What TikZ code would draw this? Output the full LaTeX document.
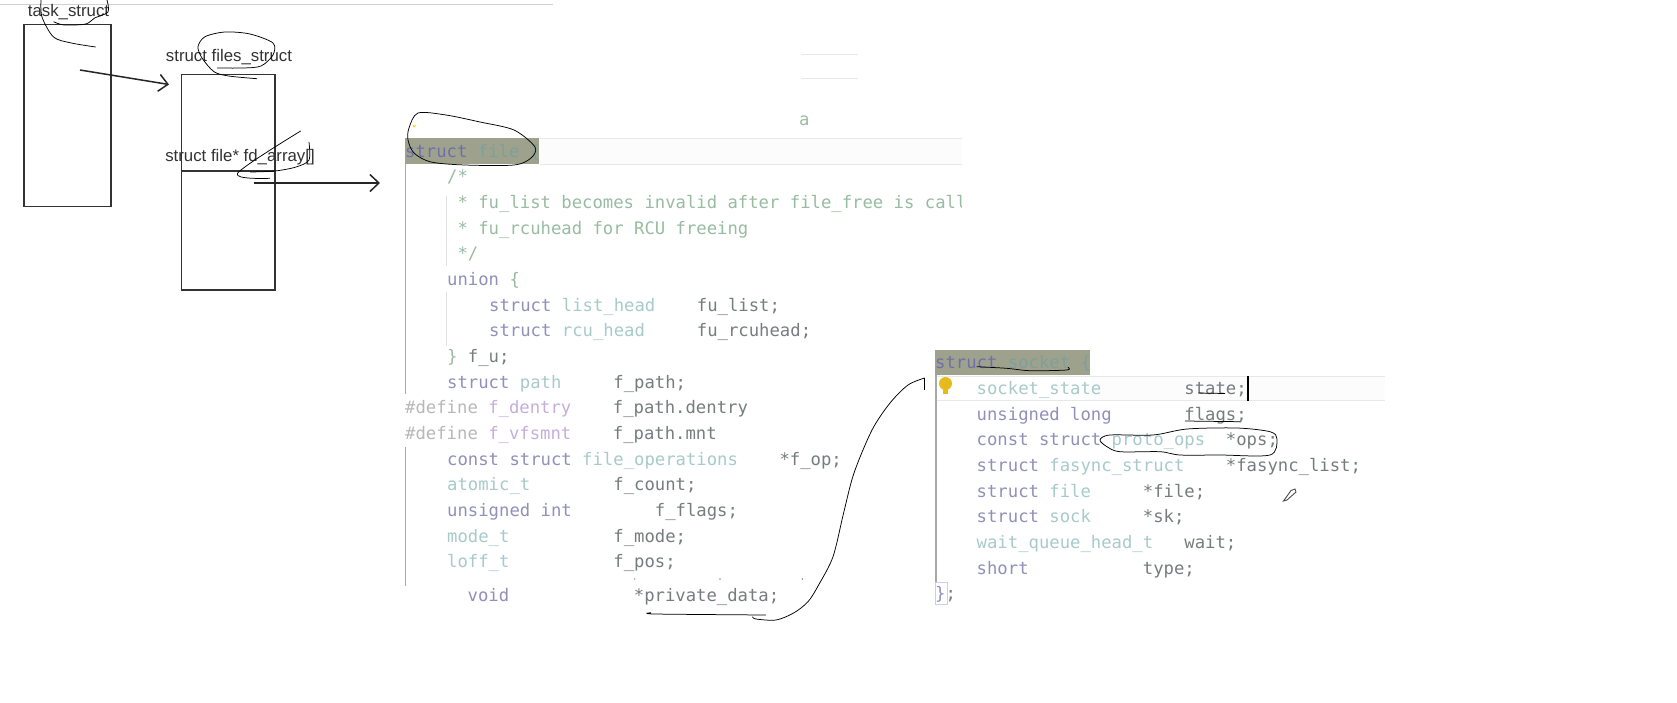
\documentclass[tikz,border=0pt]{standalone}
\usepackage{fontspec}
\usepackage{xcolor}
\usepackage{tikz}
\usetikzlibrary{arrows.meta,calc,positioning}
\setmainfont{Liberation Sans}
\newfontfamily\codefont{DejaVu Sans Mono}

\definecolor{kwcol}{HTML}{9090BA}
\definecolor{tycol}{HTML}{A8CACA}
\definecolor{cmcol}{HTML}{98BCA1}
\definecolor{idcol}{HTML}{777D7D}
\definecolor{ppcol}{HTML}{B8B8B8}
\definecolor{mccol}{HTML}{C6AEDC}
\definecolor{hlcol}{HTML}{9EA28C}
\definecolor{hlkwcol}{HTML}{6E6EAA}
\definecolor{hltycol}{HTML}{7DA09C}
\definecolor{bandcol}{HTML}{E8E8E8}
\definecolor{rulecol}{HTML}{A8A8A8}
\newcommand{\kw}[1]{\textcolor{kwcol}{#1}}
\newcommand{\ty}[1]{\textcolor{tycol}{#1}}
\newcommand{\cm}[1]{\textcolor{cmcol}{#1}}
\newcommand{\idn}[1]{\textcolor{idcol}{#1}}
\newcommand{\pp}[1]{\textcolor{ppcol}{#1}}
\newcommand{\mc}[1]{\textcolor{mccol}{#1}}
\newcommand{\hlkw}[1]{\textcolor{hlkwcol}{#1}}
\newcommand{\hlty}[1]{\textcolor{hltycol}{#1}}

\tikzset{
  structbox/.style={draw=black!80, line width=1.9pt, inner sep=0pt, anchor=north west},
  structlabel/.style={font=\fontsize{16.8}{19}\selectfont, text=black!80, inner sep=0pt},
  codeline/.style={font=\codefont\fontsize{17.25}{20}\selectfont, anchor=west, inner sep=0pt,
    text height=12pt, text depth=3.5pt},
  pen/.style={draw=black, line width=0.75pt, smooth},
  ptrarrow/.style={draw=black!85, line width=1.5pt, -{Straight Barb[length=9pt,width=17pt,line width=1.5pt]}},
}

\begin{document}
\begin{tikzpicture}[x=1pt,y=-1pt]
    \useasboundingbox (0,0) rectangle (1677,702);
    \fill[white] (0,0) rectangle (1677,702);
    % left over from the screenshot
    \draw[draw=black!18, line width=0.8pt] (0,4) -- (553,4);
    \draw[bandcol] (801,54.5) -- (858,54.5);
    \draw[bandcol] (801,78) -- (858,78);
    \node[codeline, text=cmcol] (aleft) at (799,121) {a};

    % highlights and rules of the two listings
    \fill[black!1] (540,138) rectangle (962,164);
    \draw[bandcol] (540,138) -- (962,138);
    \draw[bandcol] (540,164) -- (962,164);
    \fill[hlcol] (405,138) rectangle (539,164);
    \draw[rulecol, line width=1pt] (405,164) -- (405,394);
    \draw[rulecol, line width=1pt] (405,447) -- (405,586);
    \draw[black!12] (446,196) -- (446,266);
    \draw[black!12] (446,292) -- (446,346);
    \fill[black!1] (1090,376) rectangle (1385,400);
    \draw[bandcol] (936,376) -- (1385,376);
    \draw[bandcol] (936,400) -- (1385,400);
    \fill[hlcol] (935,350) rectangle (1090,375);
    \draw[rulecol, line width=1.5pt] (936,375) -- (936,583);
    \draw[blue!20] (935,582) rectangle (947,604);

    % struct file listing
    \foreach \y/\x/\code [count=\i] in {
      153/405/\hlkw{struct}~\hlty{file}~\hlty{\{},
      178.5/447/{\cm{/*}},
      204/447/~\cm{*~fu\_list~becomes~invalid~after~file\_free~is~call},
      230/447/~\cm{*~fu\_rcuhead~for~RCU~freeing},
      255/447/~{\cm{*/}},
      281/447/\kw{union}~\cm{\{},
      307/489/\kw{struct}~\ty{list\_head}~~~~\idn{fu\_list;},
      332.5/489/\kw{struct}~\ty{rcu\_head}~~~~~\idn{fu\_rcuhead;},
      358/447/\cm{\}}~\idn{f\_u;},
      384/447/\kw{struct}~\ty{path}~~~~~\idn{f\_path;},
      409.5/405/\pp{\#define}~\mc{f\_dentry}~~~~\idn{f\_path.dentry},
      435/405/\pp{\#define}~\mc{f\_vfsmnt}~~~~\idn{f\_path.mnt},
      461/447/\kw{const}~\kw{struct}~\ty{file\_operations}~~~~\idn{*f\_op;},
      486.5/447/\ty{atomic\_t}~~~~~~~~\idn{f\_count;},
      512/447/\kw{unsigned}~\kw{int}~~~~~~~~\idn{f\_flags;},
      538/447/\ty{mode\_t}~~~~~~~~~~\idn{f\_mode;},
      563.5/447/\ty{loff\_t}~~~~~~~~~~\idn{f\_pos;},
      597/467.5/\kw{void}~~~~~~~~~~~~\idn{*private\_data;}} {
      \node[codeline] (fileline\i) at (\x,\y) {\code};
    }
    % the listing is cut off here
    \fill[white] (962,190) rectangle (975,216);
    \foreach \x in {634.6,720,802.5} {
      \fill[black!45] (\x,579) circle (0.8pt);
    }
    % struct socket listing
    \foreach \y/\x/\code [count=\i] in {
      364.5/935/\hlkw{struct}~\hlty{socket}~\hlty{\{},
      390/976.5/\ty{socket\_state}~~~~~~~~\idn{state;},
      416/976.5/\kw{unsigned}~\kw{long}~~~~~~~\idn{flags;},
      441.5/976.5/\kw{const}~\kw{struct}~\ty{proto\_ops}~~\idn{*ops;},
      467/976.5/\kw{struct}~\ty{fasync\_struct}~~~~\idn{*fasync\_list;},
      493/976.5/\kw{struct}~\ty{file}~~~~~\idn{*file;},
      518.5/976.5/\kw{struct}~\ty{sock}~~~~~\idn{*sk;},
      544/976.5/\ty{wait\_queue\_head\_t}~~~\idn{wait;},
      570/976.5/\kw{short}~~~~~~~~~~~\idn{type;},
      595.5/935/\kw{\}}\idn{;}} {
      \node[codeline] (sockline\i) at (\x,\y) {\code};
    }

    % the boxes
    \node[structbox, minimum width=87pt, minimum height=182pt] (taskbox) at (23,23.5) {};
    \node[structbox, minimum width=93.5pt, minimum height=215.5pt] (filesbox) at (180.5,73.5) {};
    \coordinate (fdleft) at (180.5,171);
    \coordinate (fdright) at (274,171);
    \draw[black!80, line width=1.9pt] (fdleft) -- (fdright);
    \node[structlabel] (tasklabel) at (68.5,12.5) {task\_struct};
    \node[structlabel] (fileslabel) at (229,57.5) {struct files\_struct};
    \node[structlabel] (fdlabel) at (240,157) {struct file* fd\_array[]};

    % arrows
    \coordinate (taskptr) at (80,70);
    \coordinate (filesptr) at (169,84.5);
    \coordinate (fdptr) at (253.5,183);
    \coordinate (fileptr) at (380,183);
    \draw[ptrarrow] (taskptr) -- (filesptr);
    \draw[ptrarrow] (fdptr) -- (fileptr);

    % pen strokes
    \draw[pen] plot[smooth] coordinates {(41,0) (42,17) (53.5,37) (71.4,43) (95.7,47)};
    \draw[pen] plot[smooth] coordinates {(107,0) (108,12) (94.6,18) (85.7,24) (64,25) (53.6,21.7)};
    \draw[pen] plot[smooth] coordinates {(257,78.7) (228.6,76) (214,71.7) (202,58) (198,46.7) (205,36.7)
      (225,32) (250,34) (273,43) (273,55) (261,66) (243,68) (217,68)};
    \draw[pen] plot coordinates {(300.7,131) (237.5,173.3) (270,178.3)};
    \draw[pen] plot[smooth] coordinates {(309,142) (309,160) (296,167) (275,171) (250,172)};
    \draw[pen] plot[smooth cycle] coordinates {(418,113) (446,115) (480,122) (514,130) (535,147) (531,158)
      (514,165) (465,165) (431,162) (414,153) (408,140) (409,128)};
    \draw[pen] plot coordinates {(651,612.7) (655,614) (766,615)};
    \coordinate (privstart) at (752.5,616.7);
    \coordinate (socktip) at (924.6,378);
    \draw[pen] plot[smooth] coordinates {(privstart) (756,619) (776,620) (793.6,613) (808,601.7) (818.6,585)
      (833,556.7) (843.6,513) (854,473) (872,430) (890,403) (908,385) (socktip)};
    \draw[pen] (socktip) -- ++(0,12);
    \draw[pen] plot[smooth] coordinates {(976.7,366.7) (1006.7,368.3) (1030,370.7) (1066.7,370) (1068,367.3)};
    \draw[pen] (1198,393) -- (1225,393.5);
    \draw[pen] (1185,421) -- (1240,421.7);
    \draw[pen] plot[smooth cycle] coordinates {(1100,440) (1110,435) (1153,435) (1187,429) (1237,428) (1270,431.7)
      (1277,439) (1270,455) (1220,455) (1180,455) (1160,451.7) (1120,451.7) (1107,446.7)};

    % bulb, caret, pencil, small mark
    \fill[yellow!60!orange!90!black] (945.5,383.5) circle (6.5pt);
    \fill[yellow!60!orange!90!black] (943,388) rectangle (948,393.5);
    \draw[black, line width=2pt] (1248,376) -- (1248,401);
    \draw[black!70, line width=0.9pt] (1283.5,501) -- (1291,490.5) -- (1295,489) -- (1296,492) -- (1287,500) -- cycle;
    \draw[yellow!70!orange, line width=0.8pt] (413,125) -- (414,127) -- (416,125);
  \end{tikzpicture}
\end{document}
